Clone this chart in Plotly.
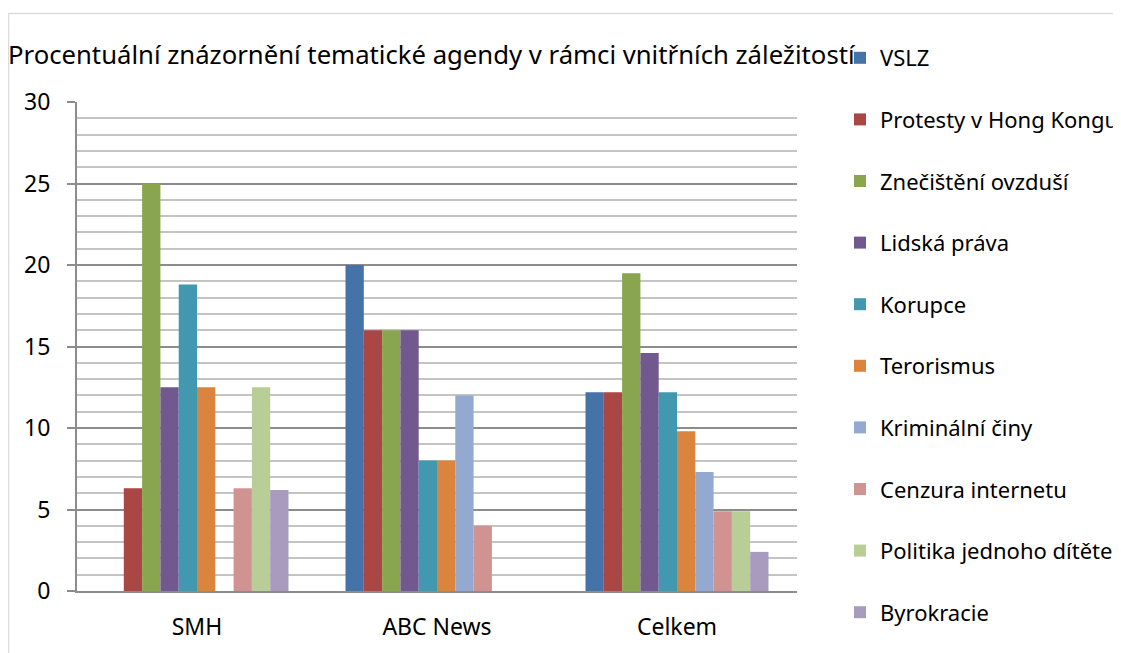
import plotly.graph_objects as go

categories = ["SMH", "ABC News", "Celkem"]
series_names = ["VSLZ", "Protesty v Hong Kongu", "Znečištění ovzduší", "Lidská práva",
                "Korupce", "Terorismus", "Kriminální činy", "Cenzura internetu",
                "Politika jednoho dítěte", "Byrokracie"]
vslz = [0, 20, 12.2]
protesty = [6.3, 16, 12.2]
znecisteni = [25, 16, 19.5]
lidska = [12.5, 16, 14.6]
korupce = [18.8, 8, 12.2]
terorismus = [12.5, 8, 9.8]
kriminalni = [0, 12, 7.3]
cenzura = [6.3, 4, 4.9]
politika = [12.5, 0, 4.9]
byrokracie = [6.2, 0, 2.4]
series_values = [vslz, protesty, znecisteni, lidska, korupce, terorismus,
                 kriminalni, cenzura, politika, byrokracie]
colors = ["#4572A7", "#AA4643", "#89A54E", "#71588F", "#4198AF", "#DB843D",
          "#93A9CF", "#D19392", "#B9CD96", "#A99BBD"]
y_ticks = [0, 5, 10, 15, 20, 25, 30]

FONT = "Noto Sans"
OFF = 8  # page body margin

fig = go.Figure()
for i, (name, vals) in enumerate(zip(series_names, series_values)):
    fig.add_trace(go.Bar(x=categories, y=vals, name=name, marker_color=colors[i],
                         marker_line_width=0, legendgroup=f"g{i}"))

W, H = 1121 - OFF, 653 - OFF
L, R, T, B = 77 - OFF, 797 - OFF, 102 - OFF, 591 - OFF
fig.update_layout(
    width=W, height=H,
    margin=dict(l=L, r=W - R, t=T, b=H - B, autoexpand=False),
    paper_bgcolor="white", plot_bgcolor="white",
    barmode="group", bargap=0.2375, bargroupgap=0,
    font=dict(family=FONT, size=22, color="black"),
    title=dict(text="Procentuální znázornění tematické agendy v rámci vnitřních záležitostí",
               xref="container", x=0, xanchor="left",
               yref="container", y=1 - (55 - OFF) / H, yanchor="middle",
               font=dict(family=FONT, size=25.7, color="black")),
    legend=dict(x=(840 - 8 - L) / (R - L), xanchor="left",
                y=1 + (T - 29) / (B - T), yanchor="top",
                traceorder="grouped", tracegroupgap=30,
                font=dict(family=FONT, size=22, color="black"),
                bgcolor="rgba(0,0,0,0)", itemwidth=30, maxheight=2000),
    showlegend=True,
)
fig.update_yaxes(range=[0, 30], tickvals=y_ticks, showgrid=True, gridcolor="#8c8c8c", gridwidth=1.5,
                 minor=dict(dtick=1, showgrid=True, gridcolor="#c4c4c4", gridwidth=1.5),
                 showline=True, linecolor="#8c8c8c", linewidth=2,
                 ticks="outside", ticklen=8, tickcolor="#8c8c8c", tickwidth=2,
                 ticklabelstandoff=12, zeroline=False,
                 tickfont=dict(family=FONT, size=23, color="black"))
fig.update_xaxes(showline=True, linecolor="#8c8c8c", linewidth=2, ticks="",
                 ticklabelstandoff=14,
                 tickfont=dict(family=FONT, size=23, color="black"))

fig.add_shape(type="rect", xref="paper", yref="paper",
              x0=(0.5 - L) / (R - L), x1=(W + 20 - L) / (R - L),
              y0=(B - (H + 20)) / (B - T), y1=(B - 5.5) / (B - T),
              line=dict(color="#dcdcdc", width=1.5), layer="below")

fig.write_html("out.html")
